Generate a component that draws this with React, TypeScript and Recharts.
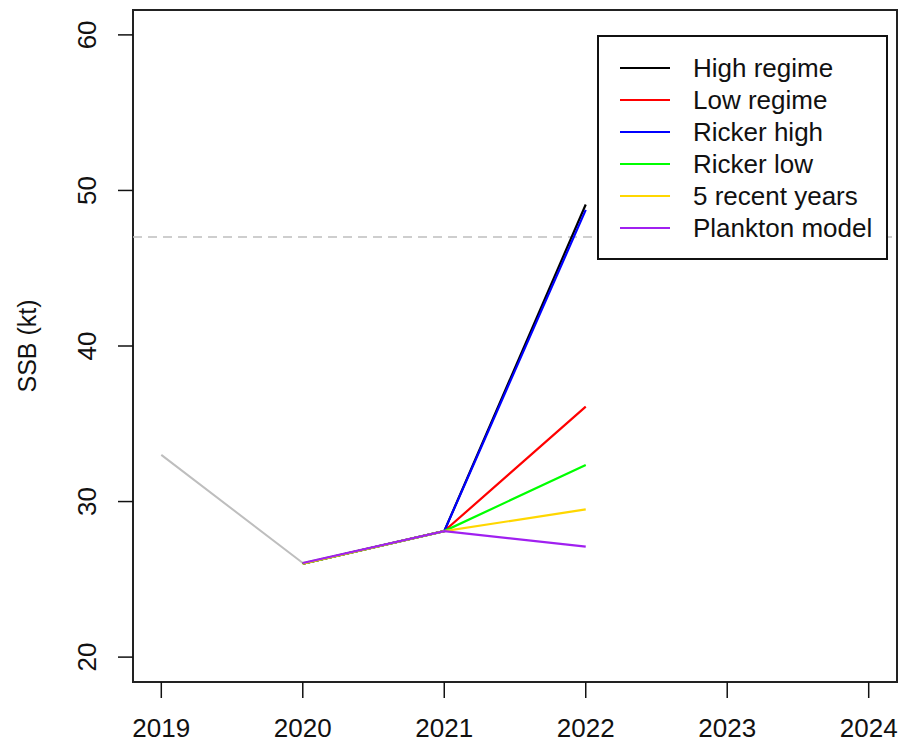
import { ComposedChart, Line, XAxis, YAxis, ReferenceLine, ReferenceArea, Label } from 'recharts';

const years = [2019, 2020, 2021, 2022];
const observed = [33.0, 26.05, 28.1, null];
const highRegime = [null, 26.0, 28.1, 49.1];
const lowRegime = [null, 26.0, 28.1, 36.1];
const rickerHigh = [null, 26.0, 28.1, 48.75];
const rickerLow = [null, 26.0, 28.1, 32.35];
const recentYears = [null, 26.0, 28.1, 29.5];
const plankton = [null, 26.05, 28.1, 27.1];

const xTicks = [2019, 2020, 2021, 2022, 2023, 2024];
const yTicks = [20, 30, 40, 50, 60];
const refLevel = 47;

const series = [
  { key: 'high', name: 'High regime', color: '#000000', values: highRegime },
  { key: 'low', name: 'Low regime', color: '#FF0000', values: lowRegime },
  { key: 'rhigh', name: 'Ricker high', color: '#0000FF', values: rickerHigh },
  { key: 'rlow', name: 'Ricker low', color: '#00FF00', values: rickerLow },
  { key: 'recent', name: '5 recent years', color: '#FFD700', values: recentYears },
  { key: 'plankton', name: 'Plankton model', color: '#A020F0', values: plankton },
];

const data = years.map((year, i) => {
  const row: Record<string, number | null> = { year, observed: observed[i] };
  series.forEach((s) => {
    row[s.key] = s.values[i];
  });
  return row;
});

const FONT = '"Liberation Sans", Arial, sans-serif';

function XTick({ x, y, payload }: any) {
  return (
    <text
      transform={`translate(${x},${y + 32})`}
      textAnchor="middle"
      fontSize={26}
      fontFamily={FONT}
      fill="#111"
    >
      {payload.value}
    </text>
  );
}

function YTick({ x, y, payload }: any) {
  return (
    <text
      transform={`translate(${x},${y}) rotate(-90)`}
      textAnchor="middle"
      fontSize={26}
      fontFamily={FONT}
      fill="#111"
    >
      {payload.value}
    </text>
  );
}

function YTitle() {
  return (
    <text
      transform="translate(36,346) rotate(-90)"
      textAnchor="middle"
      fontSize={25}
      fontFamily={FONT}
      fill="#111"
    >
      SSB (kt)
    </text>
  );
}

export default function App() {
  return (
    <div style={{ position: 'relative', width: 902, height: 744, background: '#fff' }}>
      <style>{'body{margin:0}'}</style>
      <ComposedChart width={902} height={744} data={data} margin={{ top: 10, right: 5, bottom: 0, left: 0 }}>
        <XAxis
          dataKey="year"
          type="number"
          domain={[2018.8, 2024.2]}
          ticks={xTicks}
          allowDataOverflow
          height={62}
          axisLine={false}
          tickSize={16}
          tickMargin={7}
          tickLine={{ stroke: '#111', strokeWidth: 1.5 }}
          tick={<XTick />}
          interval={0}
        />
        <YAxis
          type="number"
          domain={[18.4, 61.6]}
          ticks={yTicks}
          allowDataOverflow
          width={133}
          axisLine={false}
          tickSize={15}
          tickMargin={22}
          tickLine={{ stroke: '#111', strokeWidth: 1.5 }}
          tick={<YTick />}
          interval={0}
        >
          <Label content={<YTitle />} />
        </YAxis>
        <ReferenceLine y={refLevel} stroke="#BEBEBE" strokeWidth={1.5} strokeDasharray="9 6" />
        <Line
          dataKey="observed"
          type="linear"
          stroke="#BEBEBE"
          strokeWidth={2}
          dot={false}
          isAnimationActive={false}
        />
        {series.map((s) => (
          <Line
            key={s.key}
            dataKey={s.key}
            name={s.name}
            type="linear"
            stroke={s.color}
            strokeWidth={2.2}
            dot={false}
            isAnimationActive={false}
          />
        ))}
        <ReferenceArea
          x1={2018.8}
          x2={2024.2}
          y1={18.4}
          y2={61.6}
          fill="none"
          stroke="#222"
          strokeWidth={2}
          ifOverflow="visible"
        />
      </ComposedChart>
      <div
        style={{
          position: 'absolute',
          left: 597,
          top: 35,
          width: 291,
          height: 225,
          boxSizing: 'border-box',
          border: '2px solid #111',
          background: '#fff',
          paddingTop: 15,
          fontFamily: FONT,
          fontSize: 26,
          color: '#111',
        }}
      >
        {series.map((s) => (
          <div key={s.key} style={{ display: 'flex', alignItems: 'center', height: 32 }}>
            <div style={{ marginLeft: 21, width: 50, height: 2, background: s.color }} />
            <div style={{ marginLeft: 23, whiteSpace: 'nowrap', lineHeight: '32px' }}>{s.name}</div>
          </div>
        ))}
      </div>
    </div>
  );
}
